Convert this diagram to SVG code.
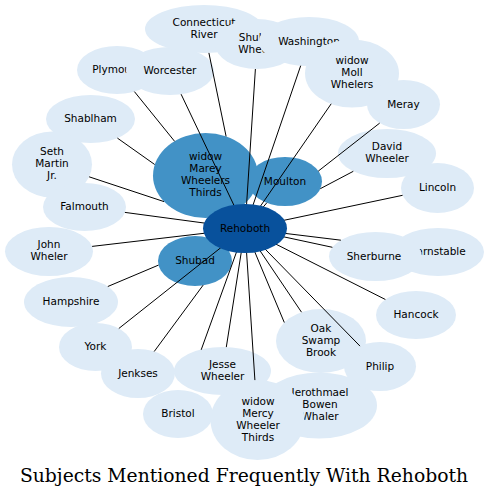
<svg xmlns="http://www.w3.org/2000/svg" width="488" height="499" viewBox="0 0 488 499">
<style>
.l{fill:#deebf7}
.m{fill:#4292c6}
.d{fill:#08519c}
text{font-family:"DejaVu Sans",Verdana,sans-serif;font-size:10.5px;fill:#000;text-anchor:middle}
.title{font-family:"DejaVu Serif","Liberation Serif",serif;font-size:18.75px}
#edges line{stroke:#000;stroke-width:1}
</style>
<rect width="488" height="499" fill="#fff"/>
<g id="n-barnstable"><ellipse class="l" cx="438" cy="252" rx="46" ry="24"/><text x="437.5" y="255">Barnstable</text></g>
<g id="n-sherburne"><ellipse class="l" cx="375.5" cy="256.5" rx="46.5" ry="24.5"/><text x="374" y="259.5">Sherburne</text></g>
<g id="n-hancock"><ellipse class="l" cx="416" cy="315" rx="40" ry="24"/><text x="416" y="318">Hancock</text></g>
<g id="n-jerothmael"><ellipse class="l" cx="319" cy="405.5" rx="58" ry="33"/><text><tspan x="320" y="396">Jerothmael</tspan><tspan x="320" y="408">Bowen</tspan><tspan x="320" y="420">Whaler</tspan></text></g>
<g id="n-philip"><ellipse class="l" cx="380" cy="366.5" rx="36" ry="24.5"/><text x="380" y="369.5">Philip</text></g>
<g id="n-oakswamp"><ellipse class="l" cx="321" cy="341" rx="45" ry="32"/><text><tspan x="321" y="331.5">Oak</tspan><tspan x="321" y="343.5">Swamp</tspan><tspan x="321" y="355.5">Brook</tspan></text></g>
<g id="n-widowmercy"><ellipse class="l" cx="257.5" cy="420" rx="47" ry="40"/><text><tspan x="258" y="404.5">widow</tspan><tspan x="258" y="416.5">Mercy</tspan><tspan x="258" y="428.5">Wheeler</tspan><tspan x="258" y="440.5">Thirds</tspan></text></g>
<g id="n-jesse"><ellipse class="l" cx="222.5" cy="371" rx="48.5" ry="24"/><text><tspan x="222.5" y="367.5">Jesse</tspan><tspan x="222.5" y="379.5">Wheeler</tspan></text></g>
<g id="n-bristol"><ellipse class="l" cx="178" cy="414" rx="35" ry="24"/><text x="178" y="417">Bristol</text></g>
<g id="n-york"><ellipse class="l" cx="95.5" cy="347" rx="36.5" ry="24"/><text x="95.5" y="350">York</text></g>
<g id="n-jenkses"><ellipse class="l" cx="138" cy="373.5" rx="37" ry="24.5"/><text x="138" y="376.5">Jenkses</text></g>
<g id="n-hampshire"><ellipse class="l" cx="71" cy="302" rx="47" ry="25"/><text x="71" y="305">Hampshire</text></g>
<g id="n-johnwheler"><ellipse class="l" cx="49" cy="251.5" rx="44" ry="24.5"/><text><tspan x="49" y="248">John</tspan><tspan x="49" y="260">Wheler</tspan></text></g>
<g id="n-shablham"><ellipse class="l" cx="90.5" cy="119" rx="44.5" ry="24"/><text x="90.5" y="122">Shablham</text></g>
<g id="n-seth"><ellipse class="l" cx="52" cy="164.5" rx="40" ry="33"/><text><tspan x="52" y="155">Seth</tspan><tspan x="52" y="167">Martin</tspan><tspan x="52" y="179">Jr.</tspan></text></g>
<g id="n-falmouth"><ellipse class="l" cx="84.5" cy="207" rx="41.5" ry="24"/><text x="84.5" y="210">Falmouth</text></g>
<g id="n-plymouth"><ellipse class="l" cx="117" cy="70" rx="40" ry="24"/><text x="117" y="73">Plymouth</text></g>
<g id="n-worcester"><ellipse class="l" cx="170" cy="71" rx="44" ry="24"/><text x="170" y="74">Worcester</text></g>
<g id="n-connecticut"><ellipse class="l" cx="204" cy="29" rx="59" ry="24"/><text><tspan x="204" y="25.5">Connecticut</tspan><tspan x="204" y="37.5">River</tspan></text></g>
<g id="n-shubael"><ellipse class="l" cx="257" cy="44" rx="42" ry="25"/><text><tspan x="260" y="40.5">Shubael</tspan><tspan x="260" y="52.5">Wheeler</tspan></text></g>
<g id="n-washington"><ellipse class="l" cx="309" cy="41.5" rx="50" ry="24.5"/><text x="309" y="44.5">Washington</text></g>
<g id="n-widowmoll"><ellipse class="l" cx="352" cy="73.5" rx="47" ry="34"/><text><tspan x="352" y="64">widow</tspan><tspan x="352" y="76">Moll</tspan><tspan x="352" y="88">Whelers</tspan></text></g>
<g id="n-meray"><ellipse class="l" cx="403.5" cy="104.5" rx="36.5" ry="24.5"/><text x="403.5" y="107.5">Meray</text></g>
<g id="n-davidwheeler"><ellipse class="l" cx="387" cy="153.5" rx="49" ry="24.5"/><text><tspan x="387" y="150">David</tspan><tspan x="387" y="162">Wheeler</tspan></text></g>
<g id="n-lincoln"><ellipse class="l" cx="437.5" cy="188" rx="36.5" ry="25"/><text x="437.5" y="191">Lincoln</text></g>
<g id="n-widowmarey"><ellipse class="m" cx="205.5" cy="175.5" rx="52.5" ry="42.5"/><text><tspan x="205.5" y="160">widow</tspan><tspan x="205.5" y="172">Marey</tspan><tspan x="205.5" y="184">Wheelers</tspan><tspan x="205.5" y="196">Thirds</tspan></text></g>
<g id="n-moulton"><ellipse class="m" cx="285" cy="181.5" rx="37" ry="24.5"/><text x="285" y="184.5">Moulton</text></g>
<g id="n-shubad"><ellipse class="m" cx="195" cy="261" rx="37" ry="25"/><text x="195" y="264">Shubad</text></g>
<g id="edges">
<line x1="208.9" y1="52.9" x2="226.1" y2="136.4"/>
<line x1="255.4" y1="69" x2="245" y2="228.5"/>
<line x1="300.7" y1="65.7" x2="245" y2="228.5"/>
<line x1="331.2" y1="103.8" x2="245" y2="228.5"/>
<line x1="379.7" y1="123.1" x2="318.3" y2="171.1"/>
<line x1="353.3" y1="171.3" x2="320.3" y2="188.7"/>
<line x1="402.6" y1="195.3" x2="245" y2="228.5"/>
<line x1="266.8" y1="202.8" x2="245" y2="228.5"/>
<line x1="181.1" y1="94.2" x2="245" y2="228.5"/>
<line x1="134.4" y1="91.6" x2="174.6" y2="141.3"/>
<line x1="117.4" y1="138.1" x2="154.7" y2="164.5"/>
<line x1="89.1" y1="176.8" x2="164" y2="201.6"/>
<line x1="124.9" y1="212.4" x2="245" y2="228.5"/>
<line x1="92.1" y1="246.4" x2="245" y2="228.5"/>
<line x1="107.8" y1="286.5" x2="158.5" y2="265.1"/>
<line x1="118.8" y1="328.5" x2="245" y2="228.5"/>
<line x1="154.2" y1="351.5" x2="203.1" y2="285.2"/>
<line x1="226.3" y1="347.1" x2="245" y2="228.5"/>
<line x1="201.2" y1="349.8" x2="245" y2="228.5"/>
<line x1="254.9" y1="380.1" x2="245" y2="228.5"/>
<line x1="284.3" y1="322.5" x2="245" y2="228.5"/>
<line x1="301.5" y1="312.2" x2="245" y2="228.5"/>
<line x1="360" y1="346.1" x2="245" y2="228.5"/>
<line x1="385.4" y1="299.5" x2="245" y2="228.5"/>
<line x1="332.4" y1="247.3" x2="245" y2="228.5"/>
<line x1="340.9" y1="240.2" x2="245" y2="228.5"/>
</g>
<g id="n-rehoboth"><ellipse class="d" cx="245" cy="228.5" rx="42" ry="24.5"/><text x="245" y="231.5">Rehoboth</text></g>
<text class="title" x="244" y="482">Subjects Mentioned Frequently With Rehoboth</text>
</svg>
